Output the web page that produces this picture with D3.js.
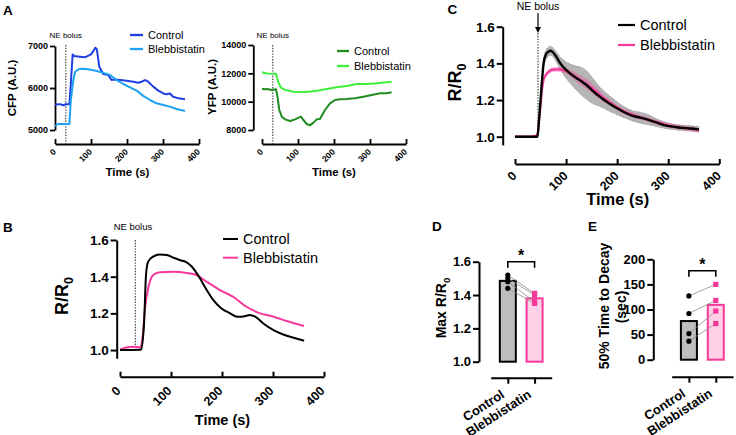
<!DOCTYPE html>
<html>
<head>
<meta charset="utf-8">
<script src="https://cdn.jsdelivr.net/npm/d3@7"></script>
<style>
body { margin: 0; background: #fff; }
</style>
</head>
<body>
<script>
// ---------- data ----------
// panel A : raw traces, [time (s), A.U.]
var cfpControl = [[0,5610],[14,5615],[23,5590],[30,5612],[40,5612],[44,6110],[49,6800],[53,6762],[69,6746],[83,6730],[100,6800],[108,6900],[112,6960],[116,6930],[123,6508],[134,6333],[148,6310],[157,6190],[166,6200],[181,6190],[199,6174],[218,6150],[231,6127],[241,6150],[250,6190],[259,6150],[273,6032],[287,5937],[301,5870],[310,5850],[319,5870],[328,5793],[343,5754],[361,5730]];
var cfpBleb = [[0,5095],[9,5143],[23,5143],[40,5143],[44,5714],[51,6190],[56,6388],[67,6452],[79,6460],[97,6440],[116,6405],[134,6360],[153,6310],[171,6190],[190,6095],[208,6016],[227,5937],[245,5812],[264,5714],[282,5635],[301,5595],[319,5556],[338,5500],[361,5452]];
var yfpControl = [[0,10894],[18,10870],[27,10820],[39,10870],[43,10353],[48,9412],[55,8941],[64,8753],[78,8635],[92,8753],[108,8941],[115,8706],[124,8424],[133,8329],[143,8518],[152,8753],[161,8776],[175,9412],[189,9882],[203,10118],[217,10165],[235,10188],[258,10235],[282,10353],[305,10470],[328,10588],[347,10600],[360,10659]];
var yfpBleb = [[0,12071],[14,11988],[39,11976],[45,11412],[52,11012],[64,10824],[87,10706],[124,10682],[152,10776],[180,10894],[207,11012],[235,11106],[263,11247],[291,11247],[319,11294],[360,11412]];

// panel B : single cell R/R0
var ratioControl = [[0,1.0],[39,1.002],[41,1.003],[47,1.136],[51,1.409],[55,1.481],[65,1.509],[78,1.521],[92,1.518],[105,1.503],[118,1.49],[129,1.481],[141,1.454],[157,1.39],[170,1.327],[183,1.272],[199,1.227],[216,1.2],[230,1.182],[242,1.183],[254,1.191],[265,1.182],[281,1.145],[301,1.109],[320,1.085],[340,1.067],[361,1.051]];
var ratioBleb = [[0,1.002],[10,1.013],[26,1.018],[39,1.015],[44,1.064],[49,1.227],[56,1.345],[65,1.409],[78,1.424],[105,1.427],[131,1.42],[150,1.409],[170,1.372],[196,1.327],[222,1.29],[248,1.236],[275,1.2],[301,1.182],[327,1.158],[361,1.131]];

// panel C : mean +/- SEM
var timeC = [0,20,40,44,47,50,53,56,60,65,70,75,80,90,100,110,120,130,140,150,160,170,180,190,200,215,230,245,260,275,290,305,320,335,350,360];
var meanControlC = [1.0,1.0,1.0,1.0,1.09,1.2,1.31,1.4,1.445,1.463,1.469,1.458,1.44,1.395,1.364,1.34,1.32,1.303,1.282,1.256,1.231,1.21,1.19,1.172,1.155,1.132,1.114,1.104,1.093,1.079,1.065,1.056,1.05,1.047,1.043,1.04];
var semControlC = [0.003,0.003,0.003,0.003,0.01,0.015,0.02,0.025,0.025,0.025,0.025,0.025,0.028,0.035,0.045,0.055,0.065,0.075,0.078,0.072,0.06,0.05,0.045,0.04,0.035,0.03,0.028,0.03,0.028,0.022,0.018,0.016,0.015,0.015,0.015,0.015];
var meanBlebC = [1.0,1.0,1.005,1.015,1.08,1.17,1.26,1.31,1.335,1.352,1.362,1.366,1.367,1.366,1.358,1.343,1.323,1.305,1.287,1.266,1.242,1.218,1.196,1.178,1.158,1.135,1.119,1.105,1.094,1.081,1.069,1.058,1.052,1.046,1.041,1.036];
var semBlebC = [0.003,0.003,0.004,0.008,0.012,0.012,0.012,0.012,0.013,0.013,0.013,0.013,0.013,0.013,0.015,0.02,0.024,0.027,0.028,0.027,0.025,0.022,0.018,0.016,0.015,0.015,0.014,0.013,0.012,0.012,0.012,0.012,0.012,0.012,0.012,0.012];

// panels D, E : paired cells
var groups = ["Control", "Blebbistatin"];
var maxControl = [1.52, 1.50, 1.48, 1.44];
var maxBleb = [1.41, 1.40, 1.36, 1.35];
var decayControl = [127, 92, 52, 37];
var decayBleb = [150, 118, 97, 72];

var timeTicks = [0, 100, 200, 300, 400];
var neBolus = 30;
var neBolusC = 45;

// ---------- look ----------
var FONT = "'Liberation Sans', Arial, Helvetica, sans-serif";
var blue = "#1f3fe3", lightBlue = "#1fa2f3";
var green = "#1f8c1f", lightGreen = "#3cf03c";
var pink = "#f7389a";

var w = 736, h = 435;
var svg = d3.select("body").append("svg").attr("width", w).attr("height", h);

drawContent();

function styleAxis(g, sw, fs) {
    g.select(".domain").attr("stroke", "#000").attr("stroke-width", sw);
    g.selectAll(".tick line").attr("stroke", "#000").attr("stroke-width", sw);
    g.selectAll(".tick text").attr("fill", "#000").attr("font-weight", "bold")
        .attr("font-family", FONT).attr("font-size", fs);
}

function yAxis(scale, x, ticks, fmt, size, fs, sw) {
    var g = svg.append("g").attr("transform", "translate(" + x + ",0)")
        .call(d3.axisLeft(scale).tickValues(ticks).tickFormat(fmt)
            .tickSize(size).tickSizeOuter(0).tickPadding(2));
    styleAxis(g, sw, fs);
    return g;
}

function timeAxis(scale, y, fs, dx, dy, sw) {
    var g = svg.append("g").attr("transform", "translate(0," + y + ")")
        .call(d3.axisBottom(scale).tickValues(timeTicks).tickSize(-5).tickSizeOuter(0));
    styleAxis(g, sw, fs);
    g.selectAll(".tick text").attr("y", null).attr("dy", null)
        .attr("text-anchor", "end")
        .attr("transform", "translate(" + dx + "," + dy + ") rotate(-45)");
    return g;
}

function trace(data, xs, ys, color, sw, curve) {
    svg.append("path").datum(data)
        .attr("fill", "none").attr("stroke", color).attr("stroke-width", sw)
        .attr("stroke-linejoin", "round")
        .attr("d", d3.line().x(function (d) { return xs(d[0]); })
            .y(function (d) { return ys(d[1]); }).curve(curve || d3.curveLinear));
}

function legendItem(x, y, len, color, label, fs, sw) {
    svg.append("line").attr("x1", x).attr("x2", x + len).attr("y1", y).attr("y2", y)
        .attr("stroke", color).attr("stroke-width", sw);
    svg.append("text").text(label).attr("x", x + len + 5).attr("y", y + fs * 0.36)
        .attr("font-size", fs).attr("font-family", FONT).attr("fill", "#000");
}

function label(txt, x, y, fs, opts) {
    opts = opts || {};
    var t = svg.append("text").text(txt).attr("x", x).attr("y", y)
        .attr("font-size", fs).attr("font-family", FONT).attr("fill", "#000")
        .attr("font-weight", opts.bold ? "bold" : "normal")
        .attr("text-anchor", opts.anchor || "start");
    if (opts.rotate) t.attr("transform", "rotate(" + opts.rotate + "," + x + "," + y + ")");
    return t;
}

function ratioLabel(x, y, fs, prefix) {
    var t = svg.append("text").attr("x", x).attr("y", y)
        .attr("font-size", fs).attr("font-family", FONT).attr("font-weight", "bold")
        .attr("text-anchor", "middle").attr("transform", "rotate(-90," + x + "," + y + ")");
    t.append("tspan").text(prefix + "R/R");
    t.append("tspan").text("0").attr("font-size", fs * 0.7).attr("dy", fs * 0.3);
}

function bolusLine(xs, t, y1, y2) {
    svg.append("line").attr("x1", xs(t)).attr("x2", xs(t)).attr("y1", y1).attr("y2", y2)
        .attr("stroke", "#333").attr("stroke-width", 1.1).attr("stroke-dasharray", "1.4,1.4");
}

function drawContent() {
    //----- A : CFP -----
    var xA1 = d3.scaleLinear().domain([0, 400]).range([55, 199]);
    var yA1 = d3.scaleLinear().domain([5000, 7000]).range([130, 46]);
    yAxis(yA1, 55, [5000, 6000, 7000], d3.format("d"), 5, 9, 1.8);
    timeAxis(xA1, 144, 8.5, 1, 8.5, 1.8);
    bolusLine(xA1, neBolus, 45, 144);
    trace(cfpControl, xA1, yA1, blue, 2);
    trace(cfpBleb, xA1, yA1, lightBlue, 2);
    label("NE bolus", xA1(neBolus), 37.5, 8, { anchor: "middle" });
    legendItem(130, 35, 13, blue, "Control", 11, 2.3);
    legendItem(130, 49, 13, lightBlue, "Blebbistatin", 11, 2.3);
    label("CFP (A.U.)", 15.5, 88, 11.5, { bold: true, anchor: "middle", rotate: -90 });
    label("Time (s)", 127.5, 175.5, 11.5, { bold: true, anchor: "middle" });

    //----- A : YFP -----
    var xA2 = d3.scaleLinear().domain([0, 400]).range([262, 406]);
    var yA2 = d3.scaleLinear().domain([8000, 14000]).range([130, 45]);
    yAxis(yA2, 253.3, [8000, 10000, 12000, 14000], d3.format("d"), 5, 9, 1.8);
    timeAxis(xA2, 144, 8.5, 1, 8.5, 1.8);
    bolusLine(xA2, neBolus, 45, 144);
    trace(yfpControl, xA2, yA2, green, 2);
    trace(yfpBleb, xA2, yA2, lightGreen, 2);
    label("NE bolus", xA2(neBolus), 37.5, 8, { anchor: "middle" });
    legendItem(337, 51, 12, green, "Control", 11, 2.3);
    legendItem(337, 66, 12, lightGreen, "Blebbistatin", 11, 2.3);
    label("YFP (A.U.)", 215.5, 87, 11.5, { bold: true, anchor: "middle", rotate: -90 });
    label("Time (s)", 334, 175.5, 11.5, { bold: true, anchor: "middle" });

    //----- B -----
    var xB = d3.scaleLinear().domain([0, 400]).range([120, 324]);
    var yB = d3.scaleLinear().domain([0.955, 1.6]).range([358.3, 240]);
    yAxis(yB, 116.7, [1.0, 1.2, 1.4, 1.6], d3.format(".1f"), 6, 13.5, 2);
    timeAxis(xB, 376.7, 12.5, 1, 15, 2);
    bolusLine(xB, neBolus, 240, 350);
    label("NE bolus", 133, 229.5, 9.5, { anchor: "middle" });
    trace(ratioBleb, xB, yB, pink, 2, d3.curveMonotoneX);
    trace(ratioControl, xB, yB, "#000", 2, d3.curveMonotoneX);
    legendItem(223, 239, 15, "#000", "Control", 14.5, 2);
    legendItem(223, 257.7, 15, pink, "Blebbistatin", 14.5, 2);
    ratioLabel(68, 296, 18, "");
    label("Time (s)", 222.5, 424.5, 14.5, { bold: true, anchor: "middle" });

    //----- C -----
    var xC = d3.scaleLinear().domain([0, 400]).range([515, 719.3]);
    var yC = d3.scaleLinear().domain([0.955, 1.6]).range([144.95, 26.7]);
    yAxis(yC, 502.7, [1.0, 1.2, 1.4, 1.6], d3.format(".1f"), 6, 13.5, 2);
    timeAxis(xC, 164, 12.5, 2, 12.5, 2);
    var band = function (mean, sem) {
        return d3.area().curve(d3.curveMonotoneX)
            .x(function (d, i) { return xC(timeC[i]); })
            .y0(function (d, i) { return yC(mean[i] - sem[i]); })
            .y1(function (d, i) { return yC(mean[i] + sem[i]); });
    };
    svg.append("path").datum(timeC).attr("d", band(meanControlC, semControlC))
        .attr("fill", "#b5b5b5").attr("stroke", "#777").attr("stroke-width", 0.6)
        .attr("stroke-dasharray", "1.5,1");
    svg.append("path").datum(timeC).attr("d", band(meanBlebC, semBlebC))
        .attr("fill", pink).attr("fill-opacity", 0.35);
    bolusLine(xC, neBolusC, 33, 137);
    trace(timeC.map(function (t, i) { return [t, meanBlebC[i]]; }), xC, yC, pink, 2.2, d3.curveMonotoneX);
    trace(timeC.map(function (t, i) { return [t, meanControlC[i]]; }), xC, yC, "#000", 2.4, d3.curveMonotoneX);
    // arrow for the bolus
    svg.append("line").attr("x1", xC(neBolusC)).attr("x2", xC(neBolusC)).attr("y1", 13).attr("y2", 29)
        .attr("stroke", "#000").attr("stroke-width", 1.2);
    svg.append("path").attr("fill", "#000")
        .attr("d", "M" + (xC(neBolusC) - 3) + ",27L" + (xC(neBolusC) + 3) + ",27L" + xC(neBolusC) + ",33Z");
    label("NE bolus", xC(neBolusC), 10, 10.5, { anchor: "middle" });
    legendItem(618, 25, 17, "#000", "Control", 14.5, 2.2);
    legendItem(618, 45, 17, pink, "Blebbistatin", 14.5, 2.2);
    ratioLabel(461, 82.5, 18, "");
    label("Time (s)", 617.7, 205, 16.5, { bold: true, anchor: "middle" });

    //----- D / E -----
    drawPaired(maxControl, maxBleb,
        d3.scaleLinear().domain([1.0, 1.6]).range([361.7, 261.7]), [1.0, 1.2, 1.4, 1.6], d3.format(".1f"),
        479, [490.7, 551.7], 377.7, 261.7);
    drawPaired(decayControl, decayBleb,
        d3.scaleLinear().domain([0, 200]).range([359.7, 259.3]), [0, 50, 100, 150, 200], d3.format("d"),
        653.3, [671.7, 733], 376.7, 270.7);
    ratioLabel(446, 308, 14, "Max ");
    label("50% Time to Decay", 609, 306, 14, { bold: true, anchor: "middle", rotate: -90 });
    label("(sec)", 626, 307, 14, { bold: true, anchor: "middle", rotate: -90 });

    //----- panel letters -----
    label("A", 3, 15, 13.5, { bold: true });
    label("B", 3, 232, 13.5, { bold: true });
    label("C", 447.5, 13.5, 13.5, { bold: true });
    label("D", 432, 231, 13.5, { bold: true });
    label("E", 588, 231, 13.5, { bold: true });
}

function drawPaired(ctrl, bleb, y, ticks, fmt, axisX, xRange, axisY, bracketY) {
    var x = d3.scalePoint().domain(groups).range(xRange).padding(0.64);
    var base = y.domain()[0];
    var bw = 16;
    yAxis(y, axisX, ticks, fmt, 6, 13, 2);
    var gx = svg.append("g").attr("transform", "translate(0," + axisY + ")")
        .call(d3.axisBottom(x).tickSize(6).tickSizeOuter(0));
    styleAxis(gx, 2, 13);
    gx.selectAll(".tick text").attr("y", null).attr("dy", null)
        .attr("text-anchor", "end")
        .attr("transform", "translate(-3,19) rotate(-33)");

    var sets = [
        { name: groups[0], vals: ctrl, fill: "#bdbdbd", stroke: "#000" },
        { name: groups[1], vals: bleb, fill: "#ffd0e6", stroke: pink }
    ];
    sets.forEach(function (s) {
        var m = d3.mean(s.vals);
        svg.append("rect")
            .attr("x", x(s.name) - bw / 2).attr("width", bw)
            .attr("y", y(m)).attr("height", y(base) - y(m))
            .attr("fill", s.fill).attr("stroke", s.stroke).attr("stroke-width", 2);
    });
    // paired lines
    ctrl.forEach(function (v, i) {
        svg.append("line")
            .attr("x1", x(groups[0])).attr("y1", y(v))
            .attr("x2", x(groups[1])).attr("y2", y(bleb[i]))
            .attr("stroke", "#8a8a8a").attr("stroke-width", 0.8);
    });
    ctrl.forEach(function (v) {
        svg.append("circle").attr("cx", x(groups[0])).attr("cy", y(v)).attr("r", 2.6).attr("fill", "#000");
    });
    bleb.forEach(function (v) {
        svg.append("rect").attr("x", x(groups[1]) - 2.6).attr("y", y(v) - 2.6)
            .attr("width", 5.2).attr("height", 5.2).attr("fill", pink);
    });
    // significance bracket
    var x0 = x(groups[0]), x1 = x(groups[1]);
    svg.append("path")
        .attr("d", "M" + x0 + "," + (bracketY + 6) + "V" + bracketY + "H" + x1 + "V" + (bracketY + 6))
        .attr("fill", "none").attr("stroke", "#000").attr("stroke-width", 1.6);
    label("*", (x0 + x1) / 2, bracketY - 0.5, 16, { bold: true, anchor: "middle" });
}
</script>
</body>
</html>
